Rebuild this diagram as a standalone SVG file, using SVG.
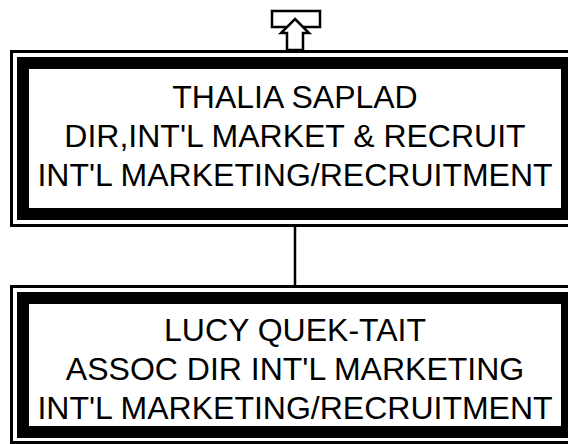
<svg xmlns="http://www.w3.org/2000/svg" width="568" height="444" viewBox="0 0 568 444">
<style>
.frame{fill:none;stroke:#000;stroke-width:3}
.band{fill:#fff;stroke:#000;stroke-width:12}
.lbl{font-family:"Liberation Sans",Arial,sans-serif;font-size:32px;fill:#000;text-anchor:middle}
.conn{stroke:#000;stroke-width:2.5;fill:none}
.ico{fill:#fff;stroke:#000;stroke-width:2.5}
</style>
<rect width="568" height="444" fill="#fff"/>
<g id="connectors">
<line class="conn" x1="295" y1="226" x2="295" y2="286"/>
</g>
<g id="up-arrow">
<rect class="ico" x="272" y="11" width="48" height="16"/>
<polygon class="ico" points="295,19 309,33 303,33 303,50 287,50 287,33 281,33"/>
</g>
<g id="node-thalia">
<rect class="frame" x="11.5" y="51.5" width="567" height="174"/>
<rect class="band" x="23" y="63" width="544" height="151"/>
<text class="lbl" x="295" y="108">THALIA SAPLAD</text>
<text class="lbl" x="295" y="147">DIR,INT'L MARKET &amp; RECRUIT</text>
<text class="lbl" x="295" y="186">INT'L MARKETING/RECRUITMENT</text>
</g>
<g id="node-lucy">
<rect class="frame" x="11.5" y="286.5" width="567" height="156"/>
<rect class="band" x="23" y="298" width="544" height="134"/>
<text class="lbl" x="295" y="341">LUCY QUEK-TAIT</text>
<text class="lbl" x="295" y="380">ASSOC DIR INT'L MARKETING</text>
<text class="lbl" x="295" y="419">INT'L MARKETING/RECRUITMENT</text>
</g>
</svg>
